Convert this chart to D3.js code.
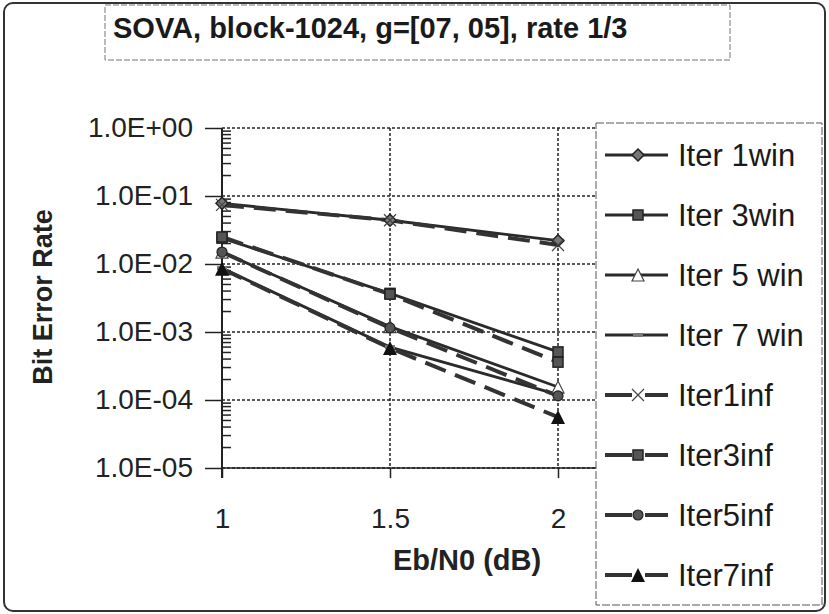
<!DOCTYPE html>
<html>
<head>
<meta charset="utf-8">
<script src="https://cdn.jsdelivr.net/npm/d3@7"></script>
<style>
  body { margin: 0; background: #fff; }
  svg { display: block; font-family: "Liberation Sans", Arial, sans-serif; }
</style>
</head>
<body>
<svg width="829" height="614"></svg>
<script>
var ebn0 = [1, 1.5, 2];
var xTicks = [1, 1.5, 2];
var yTicks = [1, 1e-1, 1e-2, 1e-3, 1e-4, 1e-5];

var seriesNames = ["Iter 1win", "Iter 3win", "Iter 5 win", "Iter 7 win",
                   "Iter1inf", "Iter3inf", "Iter5inf", "Iter7inf"];
var iter1win = [7.8e-2, 4.4e-2, 2.2e-2];
var iter3win = [2.4e-2, 3.7e-3, 5.1e-4];
var iter5win = [1.5e-2, 1.2e-3, 1.55e-4];
var iter7win = [8.7e-3, 6.0e-4, 1.2e-4];
var iter1inf = [7.4e-2, 4.4e-2, 1.9e-2];
var iter3inf = [2.5e-2, 3.6e-3, 3.6e-4];
var iter5inf = [1.5e-2, 1.15e-3, 1.15e-4];
var iter7inf = [8.5e-3, 5.8e-4, 5.6e-5];

var seriesValues = [iter1win, iter3win, iter5win, iter7win,
                    iter1inf, iter3inf, iter5inf, iter7inf];
var markers = ["diamond", "square", "triangleOpen", "dash",
               "cross", "square", "circle", "triangle"];

var svg = d3.select("svg");
var plotLeft = 222, plotRight = 596, plotTop = 128, plotBottom = 468;

var x = d3.scaleLinear().domain([1, 2]).range([plotLeft, 558]);
var y = d3.scaleLog().domain([1e-5, 1]).range([plotBottom, plotTop]);

function sciLabel(v) {
    var e = Math.round(Math.log10(v));
    var s = e < 0 ? "-" : "+";
    var a = Math.abs(e);
    return "1.0E" + s + (a < 10 ? "0" : "") + a;
}

// outer frame
svg.append("rect")
    .attr("x", 4).attr("y", 3)
    .attr("width", 821).attr("height", 608)
    .attr("rx", 9)
    .style("fill", "none").style("stroke", "#333").style("stroke-width", 2);

// title box
svg.append("rect")
    .attr("x", 105).attr("y", 5)
    .attr("width", 625).attr("height", 55)
    .style("fill", "none").style("stroke", "#777")
    .style("stroke-width", 1).style("stroke-dasharray", "6,2");
svg.append("text")
    .attr("x", 113).attr("y", 38)
    .attr("font-size", 29).attr("font-weight", "bold")
    .style("fill", "#1a1a1a")
    .text("SOVA, block-1024, g=[07, 05], rate 1/3");

// grid
var grid = svg.append("g");
grid.selectAll("line.h").data(yTicks).enter().append("line")
    .attr("x1", plotLeft).attr("x2", plotRight)
    .attr("y1", function(d) { return y(d); })
    .attr("y2", function(d) { return y(d); })
    .style("stroke", "#222").style("stroke-width", 1.5)
    .style("stroke-dasharray", "3,2");
grid.selectAll("line.v").data(xTicks.slice(1)).enter().append("line")
    .attr("x1", function(d) { return x(d); })
    .attr("x2", function(d) { return x(d); })
    .attr("y1", plotTop).attr("y2", plotBottom)
    .style("stroke", "#222").style("stroke-width", 1.5)
    .style("stroke-dasharray", "3,2");

// y axis
var yAxis = d3.axisLeft(y)
    .tickValues(yTicks)
    .tickSize(17)
    .tickPadding(12)
    .tickFormat(sciLabel);
var yg = svg.append("g")
    .attr("transform", "translate(" + plotLeft + ",0)")
    .call(yAxis);
yg.select(".domain").remove();
yg.selectAll("line").style("stroke", "#222").style("stroke-width", 1.5);
yg.selectAll("text")
    .attr("font-size", 28)
    .attr("font-family", "Liberation Sans, Arial, sans-serif")
    .style("fill", "#222");
svg.append("line")
    .attr("x1", plotLeft).attr("x2", plotLeft)
    .attr("y1", plotTop).attr("y2", plotBottom + 10)
    .style("stroke", "#222").style("stroke-width", 2);

// minor log ticks (inside)
var minor = [];
for (var p = -5; p < 0; p++) {
    for (var m = 2; m <= 9; m++) minor.push(m * Math.pow(10, p));
}
svg.append("g").selectAll("line").data(minor).enter().append("line")
    .attr("x1", plotLeft).attr("x2", plotLeft + 9)
    .attr("y1", function(d) { return y(d); })
    .attr("y2", function(d) { return y(d); })
    .style("stroke", "#222").style("stroke-width", 1.5);

// x axis
var xAxis = d3.axisBottom(x)
    .tickValues(xTicks)
    .tickSize(10)
    .tickPadding(30)
    .tickFormat(d3.format("~g"));
var xg = svg.append("g")
    .attr("transform", "translate(0," + plotBottom + ")")
    .call(xAxis);
xg.select(".domain").remove();
xg.selectAll("line").style("stroke", "#222").style("stroke-width", 1.5);
xg.selectAll("text")
    .attr("font-size", 28)
    .attr("font-family", "Liberation Sans, Arial, sans-serif")
    .style("fill", "#222");
svg.append("line")
    .attr("x1", plotLeft).attr("x2", plotRight)
    .attr("y1", plotBottom).attr("y2", plotBottom)
    .style("stroke", "#222").style("stroke-width", 1.5);

// axis titles
svg.append("text")
    .attr("transform", "translate(52,297) rotate(-90)")
    .attr("text-anchor", "middle")
    .attr("font-size", 27).attr("font-weight", "bold")
    .style("fill", "#222")
    .text("Bit Error Rate");
svg.append("text")
    .attr("x", 467).attr("y", 570)
    .attr("text-anchor", "middle")
    .attr("font-size", 29).attr("font-weight", "bold")
    .style("fill", "#222")
    .text("Eb/N0 (dB)");

// markers
function drawMarker(g, type, cx, cy) {
    var s;
    if (type == "diamond") {
        g.append("path").attr("d", "M" + cx + "," + (cy - 6) + "L" + (cx + 6) + "," + cy +
            "L" + cx + "," + (cy + 6) + "L" + (cx - 6) + "," + cy + "Z")
            .style("fill", "#777").style("stroke", "#222").style("stroke-width", 1.5);
    } else if (type == "square") {
        g.append("rect").attr("x", cx - 5).attr("y", cy - 5)
            .attr("width", 10).attr("height", 10)
            .style("fill", "#555").style("stroke", "#222").style("stroke-width", 1.5);
    } else if (type == "triangleOpen") {
        s = 6;
        g.append("path").attr("d", "M" + cx + "," + (cy - s) + "L" + (cx + s) + "," + (cy + s) +
            "L" + (cx - s) + "," + (cy + s) + "Z")
            .style("fill", "#fff").style("stroke", "#444").style("stroke-width", 1.2);
    } else if (type == "triangle") {
        s = 7;
        g.append("path").attr("d", "M" + cx + "," + (cy - s) + "L" + (cx + s) + "," + (cy + s) +
            "L" + (cx - s) + "," + (cy + s) + "Z")
            .style("fill", "#111");
    } else if (type == "circle") {
        g.append("circle").attr("cx", cx).attr("cy", cy).attr("r", 5)
            .style("fill", "#555").style("stroke", "#222").style("stroke-width", 1.2);
    } else if (type == "cross") {
        g.append("path").attr("d", "M" + (cx - 6) + "," + (cy - 6) + "L" + (cx + 6) + "," + (cy + 6) +
            "M" + (cx + 6) + "," + (cy - 6) + "L" + (cx - 6) + "," + (cy + 6))
            .style("stroke", "#444").style("stroke-width", 1.2);
    } else if (type == "dash") {
        g.append("path").attr("d", "M" + (cx - 5) + "," + cy + "L" + (cx + 5) + "," + cy)
            .style("stroke", "#777").style("stroke-width", 4);
    }
}

var line = d3.line()
    .x(function(d, i) { return x(ebn0[i]); })
    .y(function(d) { return y(d); });

var plot = svg.append("g");
seriesValues.forEach(function(vals, k) {
    var inf = k >= 4;
    plot.append("path")
        .datum(vals)
        .attr("d", line)
        .style("fill", "none")
        .style("stroke", inf ? "#333" : "#2a2a2a")
        .style("stroke-width", inf ? 4 : 2.8)
        .style("stroke-dasharray", inf ? "22,10" : null);
});
seriesValues.forEach(function(vals, k) {
    var g = plot.append("g");
    vals.forEach(function(v, i) {
        drawMarker(g, markers[k], x(ebn0[i]), y(v));
    });
});

// legend
var lx = 596, ly = 123;
svg.append("rect")
    .attr("x", lx).attr("y", ly)
    .attr("width", 226).attr("height", 482)
    .style("fill", "#fff").style("stroke", "#555").style("stroke-width", 1)
    .style("stroke-dasharray", "8,2");
var legend = svg.append("g");
seriesNames.forEach(function(name, k) {
    var yy = 155 + k * 60;
    var inf = k >= 4;
    var g = legend.append("g");
    if (inf) {
        g.append("line").attr("x1", 605).attr("x2", 632).attr("y1", yy).attr("y2", yy)
            .style("stroke", "#333").style("stroke-width", 4);
        g.append("line").attr("x1", 645).attr("x2", 668).attr("y1", yy).attr("y2", yy)
            .style("stroke", "#333").style("stroke-width", 4);
    } else {
        g.append("line").attr("x1", 605).attr("x2", 668).attr("y1", yy).attr("y2", yy)
            .style("stroke", "#2a2a2a").style("stroke-width", 2.8);
    }
    drawMarker(g, markers[k], 638, yy);
    g.append("text")
        .attr("x", 678).attr("y", yy + 11)
        .attr("font-size", 31)
        .style("fill", "#1a1a1a")
        .text(name);
});
</script>
</body>
</html>
